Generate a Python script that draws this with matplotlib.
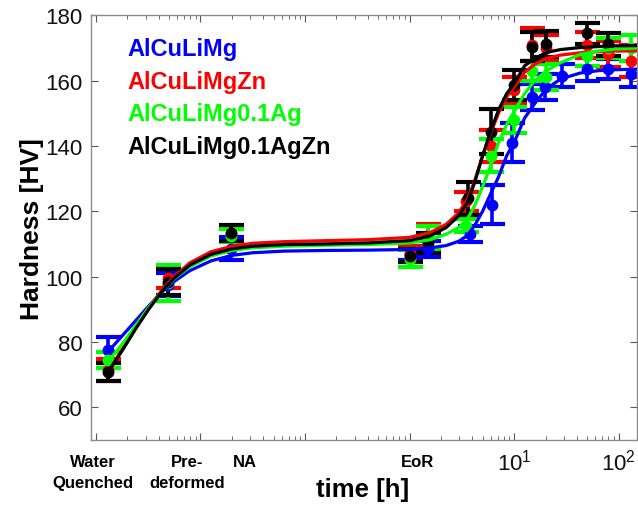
import matplotlib
matplotlib.use("Agg")
import matplotlib.pyplot as plt
import matplotlib.ticker as mticker
import matplotlib.transforms as mtransforms

# ---------------- data ----------------
series_names = ["AlCuLiMg", "AlCuLiMgZn", "AlCuLiMg0.1Ag", "AlCuLiMg0.1AgZn"]
series_colors = ["#0000ff", "#ff0000", "#00ff00", "#000000"]

# measured points (time [h], hardness [HV], error)
t_blue = [0.0013, 0.0049, 0.0195, 1.0, 1.5, 3.8, 6.1, 9.6, 14.7, 19.7, 29, 50, 80, 132]
h_blue = [77.5, 97.5, 108.5, 107, 108.5, 113, 122, 141, 155, 158, 161.5, 163.5, 163.5, 162]
e_blue = [4, 3.5, 3.5, 2, 2.5, 2.5, 6, 6, 4, 4, 3.5, 3.5, 3, 4]

t_red = [0.0013, 0.0049, 0.0195, 1.0, 1.5, 3.5, 6.0, 10, 15, 20, 50, 80, 130]
h_red = [71.5, 99.5, 113, 107, 112, 123, 140, 157, 171, 170, 171, 168, 166]
e_red = [3.3, 3, 2.5, 2.5, 4, 3, 5, 4, 5, 4, 4, 4, 5]

t_green = [0.0013, 0.0049, 0.0195, 1.0, 1.5, 3.5, 6.0, 10, 15, 20, 50, 80, 130]
h_green = [74.5, 98, 112.5, 105.5, 112, 115.5, 137, 148, 163, 161, 167.5, 170, 170]
e_green = [2.5, 5.5, 2, 2.5, 3.5, 2, 5, 4, 3, 4, 3, 3, 4]

t_black = [0.0013, 0.0049, 0.0195, 1.0, 1.5, 3.6, 6.0, 10, 15, 20, 50, 80]
h_black = [70.8, 98.3, 113.3, 106.4, 110.2, 124, 144.4, 158.6, 170.4, 171.1, 174.4, 171.1]
e_black = [2.7, 4, 2.5, 2, 3, 5, 7, 4.5, 4.4, 4, 3.3, 3.5]

# fitted curves
t_fit = [0.00135, 0.0018, 0.0024, 0.0032, 0.0043, 0.0056, 0.0079, 0.0126, 0.02, 0.0316,
         0.063, 0.158, 0.4, 1.0, 1.58, 2.24, 2.95, 3.55, 4.17, 5.0, 5.9, 7.1, 8.5, 10,
         12.6, 15.8, 20.4, 28, 43, 63, 89, 150]
fit_blue = [77.5, 82, 86.5, 91, 95.3, 98.5, 101.8, 104.8, 106.5, 107.3, 107.8, 108, 108.1,
            108.3, 108.8, 109.5, 110.8, 112.5, 115.5, 120, 125, 130.5, 137, 141, 148.5,
            153, 157.5, 160.5, 162.3, 163, 163.3, 163.5]
fit_red = [71.5, 78, 84.5, 90.5, 96, 100, 104.2, 107.6, 109.3, 110.2, 110.7, 111, 111.3,
           112, 113.5, 116, 119.5, 123.5, 129, 137, 143.5, 150, 155, 158, 162.5, 165,
           166.8, 167.8, 168.5, 168.8, 169, 169.1]
fit_green = [74.5, 79.5, 85, 90.5, 95.5, 99.3, 103, 106.3, 108, 108.8, 109.3, 109.6, 109.8,
             110.3, 111.3, 113, 115, 117.5, 121.5, 127.5, 133.5, 141, 146.5, 150.5, 156,
             160, 163, 165.5, 168, 169, 169.6, 170]
fit_black = [71.5, 77.5, 84, 90, 95.5, 99.5, 103.5, 106.8, 108.5, 109.3, 109.8, 110, 110.3,
             111, 112.5, 115, 118.6, 122.5, 128.5, 137, 144, 151, 156, 159, 164.5, 166.8,
             168.6, 169.5, 170.1, 170.4, 170.6, 170.7]

stage_labels = ["Water\nQuenched", "Pre-\ndeformed", "NA", "EoR"]
stage_label_x = [0.00094, 0.0074, 0.0266, 1.2]

y_ticks = [60, 80, 100, 120, 140, 160, 180]
x_tick_values = [1e-3, 1e-2, 1e-1, 1e0, 1e1, 1e2]
x_tick_labels = ["", "", "", "", "$10^1$", "$10^2$"]

# ---------------- figure ----------------
plt.rcParams['font.family'] = ['Liberation Sans', 'DejaVu Sans']
plt.rcParams['mathtext.fontset'] = 'custom'
plt.rcParams['mathtext.rm'] = 'Liberation Sans'

fig = plt.figure(figsize=(6.38, 5.06), dpi=100)
ax = fig.add_axes([0.142, 0.1285, 0.856, 0.8395])

data = [
    (t_blue, h_blue, e_blue, fit_blue),
    (t_red, h_red, e_red, fit_red),
    (t_green, h_green, e_green, fit_green),
    (t_black, h_black, e_black, fit_black),
]
for (t, h, e, f), c in zip(data, series_colors):
    ax.errorbar(t, h, yerr=e, fmt='o', color=c, ms=7.5, elinewidth=2.6,
                capsize=9, capthick=3.0, zorder=2)
    ax.plot(t_fit, f, '-', color=c, lw=2.3, zorder=3)

ax.set_xscale('log')
ax.set_xlim(8.9e-4, 149)
ax.set_ylim(50, 180)
ax.set_yticks(y_ticks)
ax.set_yticklabels([str(v) for v in y_ticks])
ax.xaxis.set_major_locator(mticker.FixedLocator(x_tick_values))
ax.xaxis.set_major_formatter(mticker.FixedFormatter(x_tick_labels))
ax.xaxis.set_minor_locator(mticker.LogLocator(base=10, subs=range(2, 10), numticks=20))
ax.xaxis.set_minor_formatter(mticker.NullFormatter())

spine_col = '#8c8c8c'
for s in ax.spines.values():
    s.set_color(spine_col)
    s.set_linewidth(1.0)
ax.tick_params(which='both', direction='in', top=True, right=True, color='#555555',
               labelsize=16, labelcolor='#111111')
ax.tick_params(which='major', length=5, width=0.8, pad=6)
ax.tick_params(which='minor', length=3, width=0.6)

ax.set_ylabel("Hardness [HV]", fontsize=19, fontweight='bold', labelpad=1)

# legend as coloured text
leg_y = [0.922, 0.845, 0.768, 0.692]
for name, c, yy in zip(series_names, series_colors, leg_y):
    ax.text(0.067, yy, name, color=c, fontsize=17, fontweight='bold',
            transform=ax.transAxes, va='center', ha='left')

# stage labels under the axis
trans = mtransforms.blended_transform_factory(ax.transData, fig.transFigure)
for lab, xv in zip(stage_labels, stage_label_x):
    ax.text(xv, 0.1, lab, transform=trans, ha='center', va='top', fontsize=12,
            fontweight='bold', family=['Liberation Sans Narrow', 'Liberation Sans'],
            linespacing=1.45)

fig.text(0.568, 0.032, "time [h]", ha='center', va='center', fontsize=18.5,
         fontweight='bold', family=['Liberation Sans Narrow', 'Liberation Sans'])

fig.savefig("out.png", dpi=100)
